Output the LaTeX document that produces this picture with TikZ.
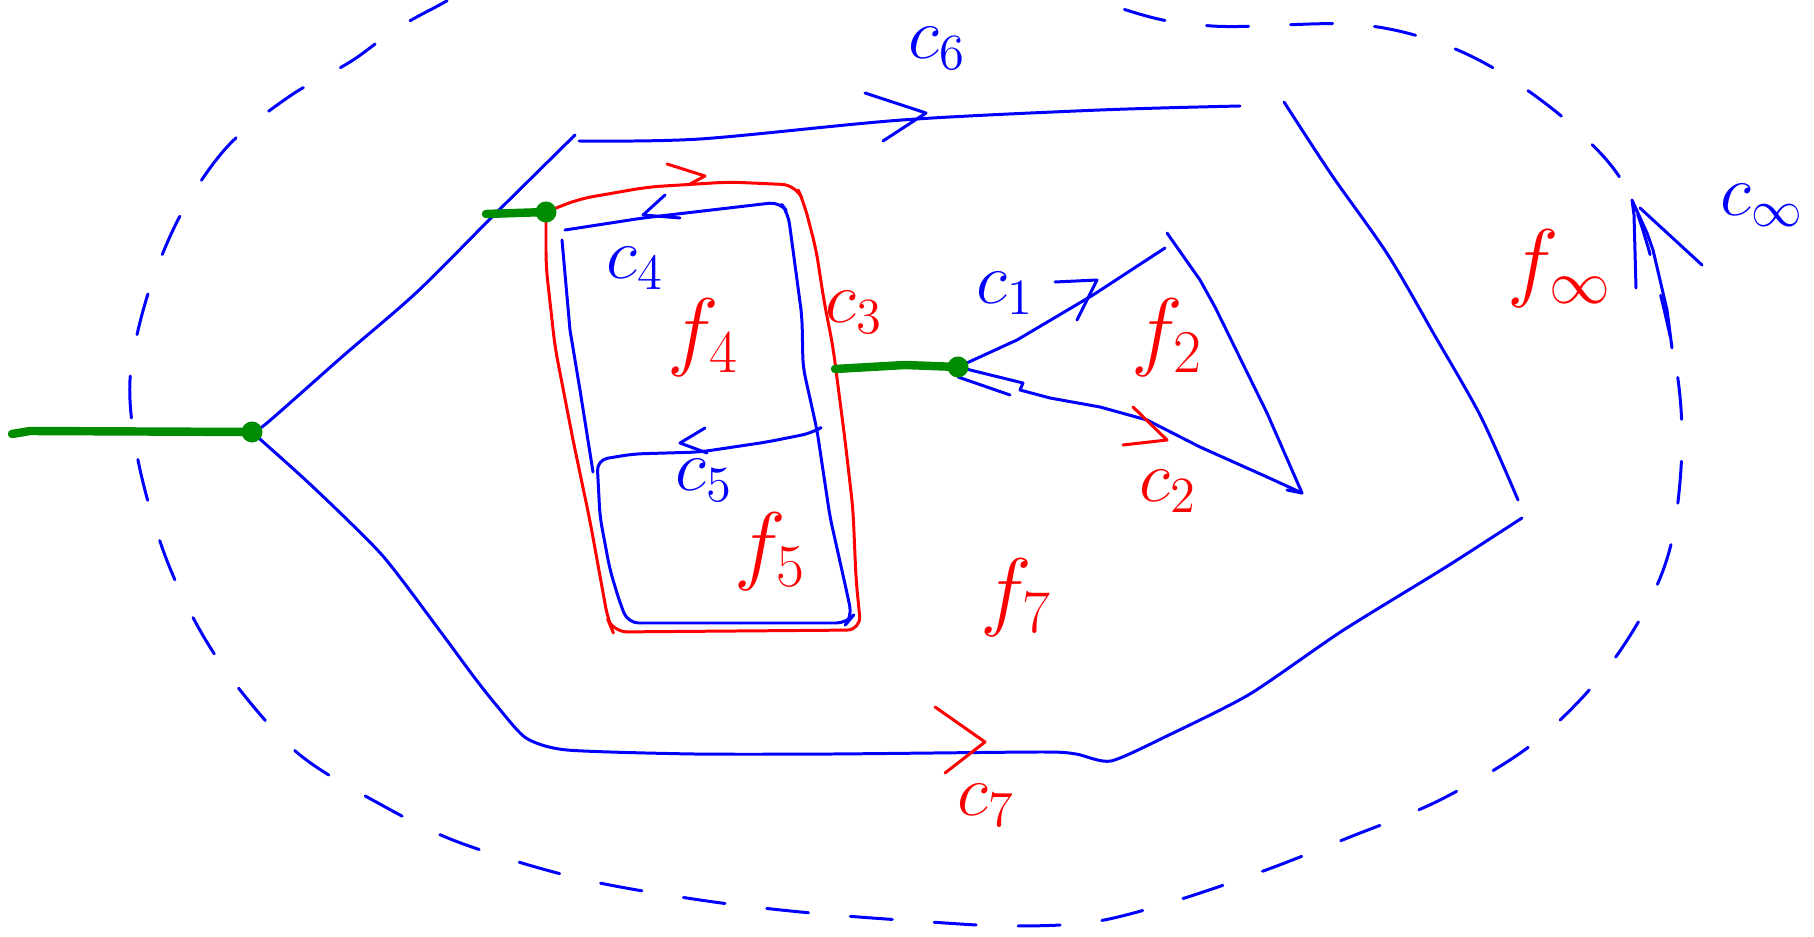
\documentclass[tikz,border=0pt]{standalone}
\usepackage{amsmath,amssymb}
\usetikzlibrary{positioning,calc}
\definecolor{PenBlue}{RGB}{0,0,255}
\definecolor{PenRed}{RGB}{255,0,0}
\definecolor{PenGreen}{RGB}{0,140,0}
\tikzset{
	dot/.style={circle,fill=PenGreen,inner sep=0pt,minimum size=0.21cm},
	bl/.style={draw=PenBlue,line width=0.85pt,line cap=round,line join=round},
	rd/.style={draw=PenRed,line width=0.85pt,line cap=round,line join=round},
	gr/.style={draw=PenGreen,line width=2.4pt,line cap=round},
	dashloop/.style={bl,dash pattern=on 0.42cm off 0.42cm},
	bt/.style={text=PenBlue,font=\fontsize{20}{24}\selectfont,inner sep=0pt},
	rc/.style={text=PenRed,font=\fontsize{20}{24}\selectfont,inner sep=0pt},
	rt/.style={text=PenRed,font=\fontsize{24}{28}\selectfont,inner sep=0pt},
}

\begin{document}
\begin{tikzpicture}[x=0.01cm,y=-0.01cm]
	\useasboundingbox (0,0) rectangle (1814,937);
	% outer face boundary
	\begin{scope}
		\clip (0,0) rectangle (1814,937);
		\draw[dashloop] plot[smooth cycle,tension=0.55] coordinates {(290,96) (227,147) (180,216) (147,297) (130,380) (138,460) (163,550) (197,625) (240,690) (300,755) (378,803) (458,842) (577,878) (700,900) (811,913) (930,922) (1010,926) (1093,922) (1175,901) (1266,870) (1350,837) (1440,800) (1530,746) (1598,680) (1645,610) (1672,540) (1682,440) (1672,345) (1632,200) (1577,130) (1500,72) (1431,40) (1350,24) (1212,26) (1120,8) (950,-60) (650,-90) (430,10) (350,62)};
	\end{scope}
	\coordinate (v0) at (252,432);
	\coordinate (v1) at (546,212);
	\coordinate (v2) at (958,367);
	\coordinate (lin) at (12,434);
	\coordinate (tin) at (486,214);
	\coordinate (rin) at (835,369);
	\coordinate (ub) at (575,135);
	\coordinate (t0) at (579,141);
	\coordinate (t1) at (1240,106);
	\coordinate (r0) at (1284,102);
	\coordinate (r1) at (1518,500);
	\coordinate (b0) at (1522,518);
	\coordinate (p1) at (1165,248);
	\coordinate (p2) at (1302,493);
	\coordinate (ap) at (1632,200);
	% f7 boundary
	\draw[bl] plot[smooth] coordinates {(v0) (267,423) (343,356) (417,292) (493,216) (ub)};
	\draw[bl] plot[smooth] coordinates {(t0) (700,139) (902,120) (1100,110) (t1)};
	\draw[bl] (865,93) -- (926,113) -- (883,141);
	\draw[bl] plot[smooth] coordinates {(r0) (1331,174) (1388,255) (1435,336) (1481,417) (r1)};
	\draw[bl] plot[smooth,tension=0.4] coordinates {(b0) (1446,567) (1342,631) (1250,694) (1169,735) (1111,761) (1076,754) (1041,752) (833,754) (694,754) (567,750) (526,738) (497,706) (474,677) (440,631) (382,555) (312,486) (v0)};
	\draw[rd] (935,707) -- (985,742) -- (945,773);
	% c3
	\draw[rd,rounded corners=4pt] (v1) -- (579,199) -- (648,187) -- (729,182) -- (796,185) -- (804,203) -- (816,249) -- (824,301) -- (833,347) -- (845,440) -- (853,509) -- (856,579) -- (861,630) -- (613,632) -- (608,620) -- (590,521) -- (573,440) -- (555,347) -- (546,266) -- (v1);
	\draw[rd] (667,164) -- (705,176) -- (690,184);
	% c4, c5
	\draw[bl,rounded corners=3pt] (565,230) -- (643,218) -- (780,202) -- (788,213) -- (793,250) -- (802,317) -- (803,367) -- (817,430) -- (830,517) -- (847,593) -- (852,617) -- (847,623) -- (628,623) -- (620,603) -- (610,570) -- (600,517) -- (597,460) -- (633,454) -- (700,452) -- (767,442) -- (812,433) -- (817,430);
	\draw[bl] (562,240) -- (570,330) -- (580,390) -- (593,472);
	\draw[bl] (665,195) -- (643,215) -- (680,218);
	\draw[bl] (705,428) -- (680,443) -- (707,453);
	% f2 triangle
	\draw[bl] (v2) -- (1017,340) -- (1093,295) -- (p1);
	\draw[bl] (1055,282) -- (1097,280) -- (1077,320);
	\draw[bl] (1167,233) -- (1200,280) -- (1215,307) -- (1267,413) -- (p2) -- (1287,490);
	\draw[bl] (p2) -- (1267,477) -- (1200,447) -- (1147,420) -- (1100,407) -- (1050,398) -- (1020,390) -- (1023,383) -- (v2);
	\draw[bl] (958,377) -- (1010,395);
	\draw[rd] (1133,407) -- (1167,440) -- (1123,445);
	% c infinity
	\draw[bl] (1636,288) -- (1634,215) -- (ap) -- (1647,233) -- (1653,250) -- (1667,310) -- (1672,348);
	\draw[bl] (1640,208) -- (1702,265);
	% green
	\draw[gr] (lin) -- (30,431) -- (v0);
	\draw[gr] (tin) -- (v1);
	\draw[gr] (rin) -- (905,365) -- (v2);
	\node[dot] (d0) at (v0) {};
	\node[dot] (d1) at (v1) {};
	\node[dot] (d2) at (v2) {};
	% labels
	\node[bt] (c6) at (937,48) {$c_6$};
	\node[bt] (c4) at (635,268) {$c_4$};
	\node[rt] (f4) at (703,338) {$f_4$};
	\node[rc] (c3) at (854,312) {$c_3$};
	\node[bt] (c5) at (704,480) {$c_5$};
	\node[rt] (f5) at (770,552) {$f_5$};
	\node[bt] (c1) at (1005,293) {$c_1$};
	\node[rt] (f2) at (1167,338) {$f_2$};
	\node[rc] (c2) at (1168,491) {$c_2$};
	\node[rt] (f7) at (1016,598) {$f_7$};
	\node[rc] (c7) at (986,805) {$c_7$};
	\node[rt] (finf) at (1560,269) {$f_\infty$};
	\node[bt] (cinf) at (1762,205) {$c_\infty$};
\end{tikzpicture}
\end{document}
